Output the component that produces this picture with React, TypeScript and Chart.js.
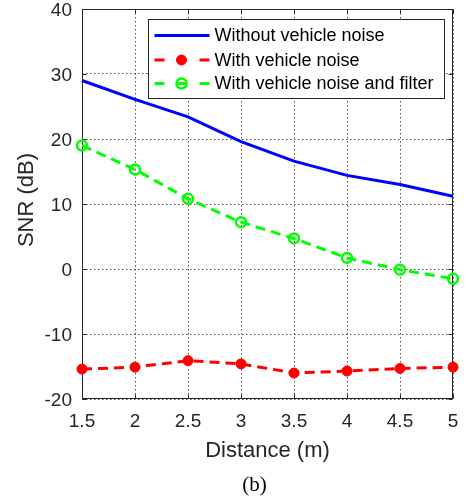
import React, { useEffect, useRef } from "react";
import { Chart, registerables } from "chart.js";

Chart.register(...registerables);

const distances = [1.5, 2, 2.5, 3, 3.5, 4, 4.5, 5];
const snrWithoutNoise = [29.0, 26.1, 23.4, 19.6, 16.6, 14.4, 13.0, 11.2];
const snrWithNoise = [-15.4, -15.1, -14.1, -14.6, -16.0, -15.7, -15.3, -15.1];
const snrWithFilter = [19.0, 15.3, 10.8, 7.2, 4.7, 1.7, -0.1, -1.5];
const xTickValues = [1.5, 2, 2.5, 3, 3.5, 4, 4.5, 5];
const yTickValues = [-20, -10, 0, 10, 20, 30, 40];
const seriesNames = ["Without vehicle noise", "With vehicle noise", "With vehicle noise and filter"];
const xTitle = "Distance (m)";
const yTitle = "SNR (dB)";
const caption = "(b)";

const SANS = '"Liberation Sans", Arial, Helvetica, sans-serif';
const SERIF = '"Liberation Serif", "Times New Roman", serif';
const AXIS = "#262626";
const BLUE = "#0000ff";
const RED = "#ff0000";
const GREEN = "#00ff00";

const framePlugin = {
  id: "frame",
  beforeDatasetsDraw(chart: any) {
    const { ctx, chartArea: a, scales } = chart;
    const xs = scales.x;
    const ys = scales.y;
    ctx.save();
    ctx.setLineDash([]);
    ctx.strokeStyle = AXIS;
    ctx.lineWidth = 1;
    const L = Math.round(a.left) + 0.5;
    const T = Math.round(a.top) + 0.5;
    const R = Math.round(a.right) - 0.5;
    const B = Math.round(a.bottom) - 0.5;
    ctx.strokeRect(L, T, R - L, B - T);
    const tl = 4;
    ctx.beginPath();
    xTickValues.forEach((v) => {
      const px = Math.round(xs.getPixelForValue(v)) + 0.5;
      ctx.moveTo(px, B);
      ctx.lineTo(px, B - tl);
      ctx.moveTo(px, T);
      ctx.lineTo(px, T + tl);
    });
    yTickValues.forEach((v) => {
      const py = Math.round(ys.getPixelForValue(v)) + 0.5;
      ctx.moveTo(L, py);
      ctx.lineTo(L + tl, py);
      ctx.moveTo(R, py);
      ctx.lineTo(R - tl, py);
    });
    ctx.stroke();
    ctx.restore();
  },
  afterDraw(chart: any) {
    const { ctx, chartArea: a } = chart;
    ctx.save();
    // legend
    const lw = 296;
    const lh = 79;
    const lx = Math.round(a.right - 9 - lw) + 0.5;
    const ly = Math.round(a.top + 10) + 0.5;
    ctx.setLineDash([]);
    ctx.fillStyle = "#ffffff";
    ctx.fillRect(lx, ly, lw, lh);
    ctx.strokeStyle = AXIS;
    ctx.lineWidth = 1;
    ctx.strokeRect(lx, ly, lw, lh);
    const rows = [16, 40.5, 64];
    const ds = chart.data.datasets;
    ds.forEach((d: any, i: number) => {
      const cy = ly + rows[i];
      const x0 = lx + 6;
      const x1 = lx + 61;
      const mx = lx + 33;
      ctx.strokeStyle = d.borderColor;
      ctx.lineWidth = d.borderWidth;
      ctx.beginPath();
      if (!d.borderDash) {
        ctx.moveTo(x0, cy);
        ctx.lineTo(x1, cy);
      } else {
        ctx.moveTo(x0, cy);
        ctx.lineTo(x0 + 10, cy);
        ctx.moveTo(x1 - 10, cy);
        ctx.lineTo(x1, cy);
        ctx.moveTo(mx - 4, cy);
        ctx.lineTo(mx + 4, cy);
      }
      ctx.stroke();
      if (d.pointRadius > 0) {
        ctx.beginPath();
        ctx.arc(mx, cy, d.pointRadius, 0, Math.PI * 2);
        if (d.pointBackgroundColor !== "rgba(0,0,0,0)") {
          ctx.fillStyle = d.pointBackgroundColor;
          ctx.fill();
        }
        ctx.strokeStyle = d.pointBorderColor;
        ctx.lineWidth = d.pointBorderWidth;
        ctx.stroke();
      }
      ctx.fillStyle = "#000000";
      ctx.font = `18px ${SANS}`;
      ctx.textAlign = "left";
      ctx.textBaseline = "middle";
      ctx.fillText(d.label, lx + 66, cy + 1);
    });
    // axis titles
    ctx.fillStyle = AXIS;
    ctx.font = `22px ${SANS}`;
    ctx.textAlign = "center";
    ctx.textBaseline = "middle";
    ctx.fillText(xTitle, (a.left + a.right) / 2, a.bottom + 52);
    ctx.save();
    ctx.translate(a.left - 55, (a.top + a.bottom) / 2 - 4);
    ctx.rotate(-Math.PI / 2);
    ctx.fillText(yTitle, 0, 0);
    ctx.restore();
    // caption
    ctx.fillStyle = "#000000";
    ctx.font = `21px ${SERIF}`;
    ctx.fillText(caption, (a.left + a.right) / 2 - 13, a.bottom + 86);
    ctx.restore();
  },
};

export default function App() {
  const ref = useRef<HTMLCanvasElement | null>(null);
  useEffect(() => {
    document.body.style.margin = "0";
    const canvas = ref.current;
    if (!canvas) return;
    const toPts = (arr: number[]) => distances.map((x, i) => ({ x, y: arr[i] }));
    const chart = new Chart(canvas, {
      type: "line",
      data: {
        datasets: [
          {
            label: seriesNames[0],
            data: toPts(snrWithoutNoise),
            borderColor: BLUE,
            backgroundColor: BLUE,
            borderWidth: 3,
            pointRadius: 0,
            tension: 0,
            clip: false,
          },
          {
            label: seriesNames[1],
            data: toPts(snrWithNoise),
            borderColor: RED,
            backgroundColor: RED,
            borderWidth: 3,
            borderDash: [10, 6],
            pointRadius: 5,
            pointBackgroundColor: RED,
            pointBorderColor: RED,
            pointBorderWidth: 1,
            tension: 0,
            clip: false,
          },
          {
            label: seriesNames[2],
            data: toPts(snrWithFilter),
            borderColor: GREEN,
            backgroundColor: GREEN,
            borderWidth: 3,
            borderDash: [10, 6],
            pointRadius: 5,
            pointBackgroundColor: "rgba(0,0,0,0)",
            pointBorderColor: GREEN,
            pointBorderWidth: 2.5,
            tension: 0,
            clip: false,
          },
        ] as any,
      },
      options: {
        animation: false,
        responsive: false,
        maintainAspectRatio: false,
        layout: { padding: { top: 9, right: 17, left: 0, bottom: 0 } },
        plugins: { legend: { display: false }, tooltip: { enabled: false }, title: { display: false } },
        scales: {
          x: {
            type: "linear",
            min: 1.5,
            max: 5,
            afterBuildTicks: (s: any) => {
              s.ticks = xTickValues.map((v) => ({ value: v }));
            },
            afterFit: (s: any) => {
              s.height = 100;
              s.paddingLeft = 0;
              s.paddingRight = 0;
            },
            ticks: {
              callback: (v: any) => String(v),
              font: { family: SANS, size: 19 },
              color: AXIS,
              padding: 11,
              maxRotation: 0,
              autoSkip: false,
            },
            grid: { color: "rgba(38,38,38,0.8)", lineWidth: 1, drawTicks: false },
            border: { display: false, dash: [1.5, 2.5] },
          },
          y: {
            type: "linear",
            min: -20,
            max: 40,
            afterBuildTicks: (s: any) => {
              s.ticks = yTickValues.map((v) => ({ value: v }));
            },
            afterFit: (s: any) => {
              s.width = 82;
              s.paddingTop = 0;
              s.paddingBottom = 0;
            },
            ticks: {
              callback: (v: any) => String(v),
              font: { family: SANS, size: 19 },
              color: AXIS,
              padding: 10,
              labelOffset: 2,
              autoSkip: false,
            },
            grid: { color: "rgba(38,38,38,0.8)", lineWidth: 1, drawTicks: false },
            border: { display: false, dash: [1.5, 2.5] },
          },
        },
      },
      plugins: [framePlugin],
    });
    return () => chart.destroy();
  }, []);
  return <canvas ref={ref} width={470} height={499} style={{ display: "block", width: 470, height: 499 }} />;
}
